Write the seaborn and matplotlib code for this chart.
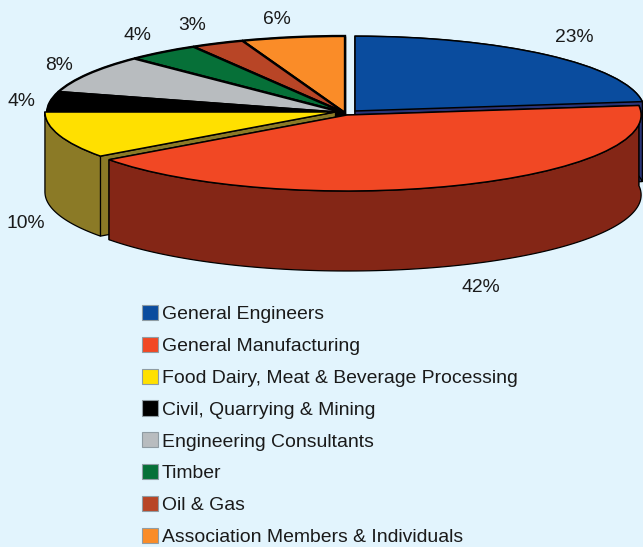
import numpy as np
import matplotlib
matplotlib.use("Agg")
import matplotlib.pyplot as plt
from matplotlib.patches import Patch
import seaborn as sns

categories = ["General Engineers", "General Manufacturing",
              "Food Dairy, Meat & Beverage Processing", "Civil, Quarrying & Mining",
              "Engineering Consultants", "Timber", "Oil & Gas",
              "Association Members & Individuals"]
shares = [23.0, 42.0, 10.0, 4.4, 8.1, 4.0, 2.9, 5.6]
top_colors = ["#0A4C9E", "#F14824", "#FFE000", "#000000", "#B8BCBF", "#067038", "#B84526", "#FA8C28"]
side_colors = ["#2A3578", "#842616", "#8B7A26", "#000000", "#5F6163", "#04401F", "#6A2815", "#8A4E18"]

W, H = 643, 547
sns.set_theme(style="white")
plt.rcParams["font.family"] = ["Liberation Sans", "DejaVu Sans"]
BG = "#E2F4FD"

# Plot scale: one pie radius spans 298 px across and 77 px down the page
SX, SY, CX, CY = 298.0, 77.0, 345.0, 113.0
DEPTH = 80.0 / SY


def px(x, y):
    return (x - CX) / SX, (CY - y) / SY


fig = plt.figure(figsize=(W / 100, H / 100), dpi=100, facecolor=BG)
ax = fig.add_axes([0, 0, 1, 1])
wedges, _ = ax.pie(shares, colors=sns.color_palette(top_colors), startangle=90,
                   counterclock=False, radius=1.0,
                   wedgeprops=dict(edgecolor="black", linewidth=1.1))
ax.set_aspect("auto")
ax.set_xlim(px(0, 0)[0], px(W, 0)[0])
ax.set_ylim(px(0, H)[1], px(0, 0)[1])
ax.axis("off")

# Pulled-out slices: index -> (centre x px, centre y px, radius)
pulled = {0: (355, 111, 0.972), 1: (347, 115, 0.987), 2: (335.5, 112, 0.975)}
# Painter's order: back slices first, front slices last
order = [7, 6, 5, 4, 3, 0, 2, 1]

for rank, i in enumerate(order):
    w = wedges[i]
    if i in pulled:
        x0, y0, r = pulled[i]
        w.set_center(px(x0, y0))
        w.set_radius(r)
    else:
        w.set_linewidth(1.7)
    cx, cy = w.center
    r = w.r
    t = np.radians(np.linspace(w.theta1, w.theta2, 120))
    ax_, ay_ = cx + r * np.cos(t), cy + r * np.sin(t)
    base = 3 * rank + 2
    w.set_zorder(base + 2)
    for ex, ey in ((ax_[0], ay_[0]), (ax_[-1], ay_[-1])):
        ax.fill([cx, ex, ex, cx], [cy, ey, ey - DEPTH, cy - DEPTH],
                facecolor=side_colors[i], edgecolor="black", linewidth=0.9, zorder=base)
    ax.fill(np.r_[ax_, ax_[::-1]], np.r_[ay_, ay_[::-1] - DEPTH],
            facecolor=side_colors[i], edgecolor="black", linewidth=0.9, zorder=base + 1)

# Percent labels
label_pos = [(574, 38), (481, 288), (26, 224), (21, 102), (59, 65), (137, 35), (192, 26), (277, 19)]
for v, (lx, ly) in zip(shares, label_pos):
    ax.text(*px(lx, ly), f"{v:.0f}%", ha="center", va="center", fontsize=13.9,
            color="#1a1a1a", zorder=60)

handles = [Patch(facecolor=c, edgecolor="#8f9ca3", linewidth=0.8) for c in top_colors]
leg = ax.legend(handles, categories, loc="upper left", frameon=False,
                bbox_to_anchor=(134 / W, 1 - 297 / H), bbox_transform=fig.transFigure,
                fontsize=13.95, labelcolor="#1a1a1a", handlelength=0.83, handleheight=0.83,
                handletextpad=0.2, labelspacing=0.70, borderaxespad=0, borderpad=0.4)
leg.set_zorder(60)

fig.savefig("out.png", dpi=100, facecolor=BG)
